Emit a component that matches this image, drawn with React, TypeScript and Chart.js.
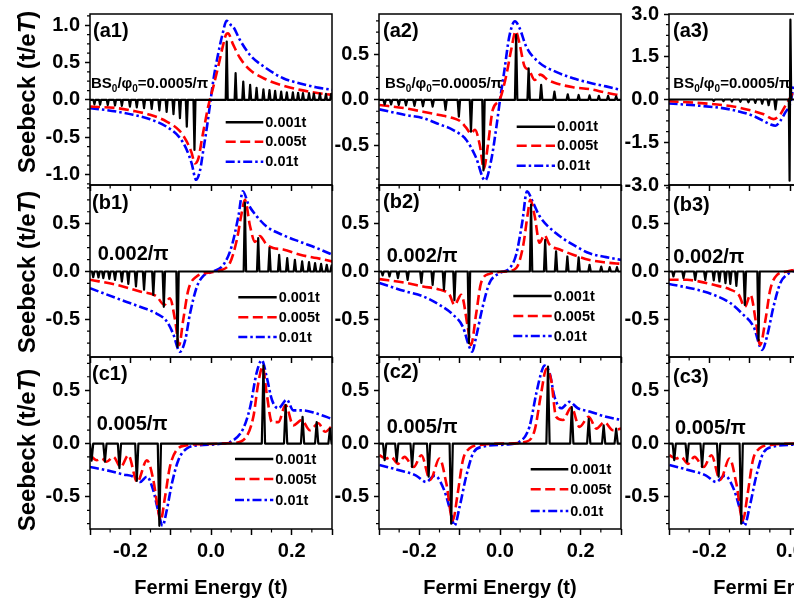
import React, { useEffect, useRef } from "react";
import { Chart, registerables } from "chart.js";

Chart.register(...registerables);

type Pt = [number, number];

// ---------------- axis ticks / labels ----------------
const xMajorTicks = [-0.3, -0.2, -0.1, 0.0, 0.1, 0.2, 0.3];
const xLabelledTicks = [-0.2, 0.0, 0.2];
const xMinorTicks = [-0.25, -0.15, -0.05, 0.05, 0.15, 0.25];
const yTicksA1 = [-1.0, -0.5, 0.0, 0.5, 1.0];
const yTicksA2 = [-0.5, 0.0, 0.5];
const yTicksA3 = [-3.0, -1.5, 0.0, 1.5, 3.0];
const yTicksBC = [-0.5, 0.0, 0.5];
const seriesNames = ["0.001t", "0.005t", "0.01t"];
const xTitle = "Fermi Energy (t)";
const yTitleParts = ["Seebeck (t/e", "T", ")"];

// ---------------- (a1) BS0/phi0 = 0.0005/pi ----------------
const a1BlackSpikes: Pt[] = [
  [-0.289, -0.06], [-0.275, -0.065], [-0.256, -0.07], [-0.238, -0.075], [-0.221, -0.08],
  [-0.201, -0.09], [-0.184, -0.1], [-0.166, -0.11], [-0.147, -0.12], [-0.128, -0.14],
  [-0.11, -0.16], [-0.093, -0.19], [-0.077, -0.245], [-0.06, -0.36], [-0.041, -0.67],
  [0.039, 0.78], [0.061, 0.357], [0.08, 0.245], [0.097, 0.2], [0.113, 0.16], [0.13, 0.14],
  [0.145, 0.13], [0.159, 0.12], [0.174, 0.11], [0.188, 0.1], [0.203, 0.1], [0.216, 0.095],
  [0.228, 0.09], [0.243, 0.09], [0.255, 0.085], [0.27, 0.085], [0.285, 0.08], [0.298, 0.08],
];
const a1Red: Pt[] = [
  [-0.3, -0.089], [-0.234, -0.11], [-0.193, -0.147], [-0.151, -0.2], [-0.11, -0.29],
  [-0.077, -0.42], [-0.06, -0.56], [-0.048, -0.71], [-0.04, -0.85], [-0.031, -0.78],
  [-0.023, -0.54], [-0.015, -0.31], [-0.007, -0.09], [0.006, 0.18], [0.018, 0.45],
  [0.029, 0.71], [0.037, 0.87], [0.042, 0.89], [0.055, 0.74], [0.072, 0.56], [0.097, 0.4],
  [0.138, 0.27], [0.179, 0.19], [0.221, 0.134], [0.26, 0.095], [0.301, 0.067],
];
const a1Blue: Pt[] = [
  [-0.3, -0.11], [-0.234, -0.156], [-0.193, -0.2], [-0.151, -0.26], [-0.11, -0.36],
  [-0.077, -0.51], [-0.06, -0.67], [-0.048, -0.85], [-0.037, -1.07], [-0.027, -0.94],
  [-0.019, -0.67], [-0.01, -0.36], [-0.002, -0.045], [0.006, 0.27], [0.018, 0.625],
  [0.029, 0.89], [0.0385, 1.06], [0.05, 1.0], [0.055, 0.98], [0.072, 0.8], [0.097, 0.6],
  [0.138, 0.42], [0.179, 0.29], [0.221, 0.22], [0.26, 0.17], [0.301, 0.134],
];

// ---------------- (a2) ----------------
const a2BlackSpikes: Pt[] = [
  [-0.286, -0.05], [-0.27, -0.05], [-0.251, -0.055], [-0.233, -0.06], [-0.212, -0.065],
  [-0.191, -0.07], [-0.167, -0.074], [-0.135, -0.11], [-0.102, -0.185], [-0.072, -0.35],
  [-0.041, -0.78],
  [0.04, 0.72], [0.071, 0.35], [0.102, 0.167], [0.135, 0.093], [0.168, 0.063], [0.195, 0.055],
  [0.222, 0.05], [0.245, 0.045], [0.268, 0.045], [0.288, 0.04],
];
const a2Red: Pt[] = [
  [-0.299, -0.056], [-0.233, -0.093], [-0.191, -0.13], [-0.15, -0.167], [-0.117, -0.2],
  [-0.1, -0.23], [-0.085, -0.3], [-0.072, -0.37], [-0.062, -0.33], [-0.05, -0.5],
  [-0.04, -0.76], [-0.03, -0.5], [-0.018, -0.11], [-0.001, 0.0], [0.015, 0.26], [0.028, 0.56],
  [0.039, 0.76], [0.048, 0.63], [0.061, 0.37], [0.072, 0.33], [0.086, 0.22], [0.1, 0.28],
  [0.119, 0.22], [0.135, 0.19], [0.181, 0.14], [0.222, 0.12], [0.263, 0.08], [0.301, 0.048],
];
const a2Blue: Pt[] = [
  [-0.299, -0.104], [-0.233, -0.167], [-0.191, -0.2], [-0.15, -0.27], [-0.117, -0.33],
  [-0.084, -0.44], [-0.06, -0.63], [-0.037, -0.89], [-0.022, -0.67], [-0.009, -0.3],
  [0.0, 0.0], [0.011, 0.33], [0.023, 0.7], [0.037, 0.87], [0.048, 0.8], [0.065, 0.59],
  [0.098, 0.41], [0.139, 0.31], [0.181, 0.24], [0.222, 0.19], [0.263, 0.15], [0.301, 0.11],
];

// ---------------- (a3) ----------------
const a3BlackSpikes: Pt[] = [
  [-0.189, -0.05], [-0.165, -0.06], [-0.144, -0.07], [-0.123, -0.08], [-0.103, -0.1],
  [-0.086, -0.12], [-0.069, -0.15], [-0.053, -0.2], [-0.036, -0.35],
];
const a3BlackCentre: Pt[] = [[-0.003, 0.0], [-0.001, -2.85], [0.001, 2.8], [0.003, 0.0]];
const a3Red: Pt[] = [
  [-0.301, -0.06], [-0.231, -0.115], [-0.148, -0.23], [-0.107, -0.35], [-0.065, -0.52],
  [-0.041, -0.69], [-0.024, -0.52], [-0.012, -0.23], [-0.002, 0.0], [0.009, 0.3],
];
const a3Blue: Pt[] = [
  [-0.301, -0.14], [-0.231, -0.21], [-0.148, -0.35], [-0.09, -0.58], [-0.049, -0.87],
  [-0.036, -0.92], [-0.024, -0.75], [-0.012, -0.46], [0.001, -0.12], [0.009, 0.5],
];

// ---------------- (b1) 0.002/pi ----------------
const b1BlackSpikes: Pt[] = [
  [-0.292, -0.06], [-0.279, -0.063], [-0.267, -0.07], [-0.252, -0.077], [-0.238, -0.087],
  [-0.221, -0.105], [-0.205, -0.13], [-0.186, -0.157], [-0.166, -0.19], [-0.143, -0.245],
  [-0.117, -0.37], [-0.083, -0.79],
  [0.084, 0.72], [0.117, 0.35], [0.145, 0.245], [0.169, 0.175], [0.189, 0.14], [0.208, 0.122],
  [0.226, 0.105], [0.243, 0.098], [0.258, 0.087], [0.273, 0.08], [0.287, 0.07], [0.299, 0.063],
];
const b1Red: Pt[] = [
  [-0.3, -0.087], [-0.234, -0.14], [-0.176, -0.21], [-0.135, -0.26], [-0.116, -0.35],
  [-0.102, -0.28], [-0.089, -0.51], [-0.079, -0.77], [-0.069, -0.51], [-0.056, -0.19],
  [-0.035, -0.05], [-0.002, -0.01], [0.022, 0.01], [0.047, 0.09], [0.064, 0.33], [0.076, 0.61],
  [0.084, 0.75], [0.097, 0.47], [0.109, 0.31], [0.121, 0.37], [0.138, 0.28], [0.154, 0.245],
  [0.179, 0.23], [0.221, 0.175], [0.262, 0.14], [0.301, 0.105],
];
const b1Blue: Pt[] = [
  [-0.3, -0.175], [-0.234, -0.28], [-0.176, -0.37], [-0.135, -0.44], [-0.11, -0.52],
  [-0.094, -0.65], [-0.077, -0.84], [-0.064, -0.72], [-0.052, -0.44], [-0.035, -0.16],
  [-0.019, -0.045], [0.006, 0.0], [0.031, 0.07], [0.051, 0.26], [0.068, 0.58], [0.079, 0.84],
  [0.093, 0.7], [0.113, 0.58], [0.138, 0.47], [0.179, 0.38], [0.221, 0.31], [0.262, 0.245],
  [0.301, 0.175],
];

// ---------------- (b2) ----------------
const b2BlackSpikes: Pt[] = [
  [-0.291, -0.042], [-0.274, -0.052], [-0.253, -0.07], [-0.229, -0.087], [-0.195, -0.12],
  [-0.167, -0.14], [-0.139, -0.19], [-0.113, -0.3], [-0.077, -0.75],
  [0.077, 0.7], [0.112, 0.33], [0.139, 0.21], [0.167, 0.157], [0.195, 0.147], [0.222, 0.07],
  [0.251, 0.052], [0.272, 0.045], [0.29, 0.045],
];
const b2Red: Pt[] = [
  [-0.299, -0.08], [-0.233, -0.12], [-0.191, -0.157], [-0.15, -0.19], [-0.125, -0.245],
  [-0.113, -0.35], [-0.096, -0.245], [-0.08, -0.58], [-0.072, -0.77], [-0.059, -0.44],
  [-0.047, -0.12], [-0.026, -0.025], [0.015, 0.0], [0.04, 0.035], [0.057, 0.26], [0.069, 0.61],
  [0.075, 0.75], [0.086, 0.58], [0.098, 0.3], [0.11, 0.38], [0.123, 0.28], [0.148, 0.23],
  [0.181, 0.175], [0.222, 0.12], [0.263, 0.094], [0.301, 0.08],
];
const b2Blue: Pt[] = [
  [-0.299, -0.12], [-0.233, -0.21], [-0.191, -0.26], [-0.15, -0.35], [-0.117, -0.45],
  [-0.092, -0.58], [-0.076, -0.79], [-0.069, -0.84], [-0.059, -0.68], [-0.043, -0.37],
  [-0.026, -0.12], [-0.001, -0.017], [0.024, 0.035], [0.04, 0.175], [0.055, 0.51],
  [0.067, 0.84], [0.081, 0.73], [0.098, 0.58], [0.139, 0.4], [0.181, 0.28], [0.222, 0.19],
  [0.263, 0.15], [0.301, 0.12],
];

// ---------------- (b3) ----------------
const b3BlackSpikes: Pt[] = [
  [-0.289, -0.052], [-0.264, -0.07], [-0.235, -0.087], [-0.21, -0.087], [-0.189, -0.094],
  [-0.175, -0.105], [-0.16, -0.122], [-0.148, -0.13], [-0.133, -0.15], [-0.112, -0.35],
  [-0.078, -0.72],
];
const b3Red: Pt[] = [
  [-0.301, -0.087], [-0.255, -0.087], [-0.231, -0.1], [-0.189, -0.14], [-0.148, -0.19],
  [-0.127, -0.245], [-0.112, -0.37], [-0.098, -0.245], [-0.084, -0.54], [-0.074, -0.77],
  [-0.061, -0.51], [-0.049, -0.19], [-0.032, -0.035], [-0.008, 0.0], [0.011, 0.017],
];
const b3Blue: Pt[] = [
  [-0.301, -0.13], [-0.231, -0.19], [-0.189, -0.245], [-0.148, -0.33], [-0.119, -0.44],
  [-0.09, -0.58], [-0.069, -0.82], [-0.057, -0.68], [-0.041, -0.37], [-0.024, -0.12],
  [-0.008, -0.035], [0.011, 0.01],
];

// ---------------- (c1) 0.005/pi ----------------
const c1BlackSpikes: Pt[] = [
  [-0.296, -0.16], [-0.263, -0.17], [-0.227, -0.23], [-0.184, -0.35], [-0.128, -0.77],
  [0.13, 0.73], [0.185, 0.36], [0.227, 0.25], [0.262, 0.2], [0.295, 0.14],
];
const c1Red: Pt[] = [
  [-0.3, -0.11], [-0.283, -0.156], [-0.271, -0.14], [-0.259, -0.17], [-0.242, -0.125],
  [-0.224, -0.22], [-0.205, -0.11], [-0.183, -0.36], [-0.159, -0.156], [-0.143, -0.34],
  [-0.135, -0.53], [-0.125, -0.72], [-0.114, -0.5], [-0.102, -0.22], [-0.085, -0.06],
  [-0.06, -0.016], [-0.027, -0.006], [0.055, 0.006], [0.084, 0.047], [0.105, 0.25],
  [0.117, 0.56], [0.128, 0.72], [0.138, 0.47], [0.151, 0.2], [0.167, 0.2], [0.185, 0.36],
  [0.204, 0.17], [0.225, 0.22], [0.245, 0.125], [0.266, 0.19], [0.283, 0.11], [0.301, 0.17],
];
const c1Blue: Pt[] = [
  [-0.3, -0.22], [-0.259, -0.25], [-0.217, -0.29], [-0.193, -0.31], [-0.176, -0.36],
  [-0.159, -0.31], [-0.143, -0.44], [-0.131, -0.63], [-0.12, -0.77], [-0.11, -0.63],
  [-0.097, -0.375], [-0.081, -0.156], [-0.06, -0.047], [-0.027, -0.016], [0.014, -0.006],
  [0.055, 0.03], [0.08, 0.14], [0.097, 0.34], [0.113, 0.66], [0.126, 0.78], [0.138, 0.625],
  [0.151, 0.41], [0.167, 0.33], [0.188, 0.41], [0.204, 0.31], [0.229, 0.31], [0.262, 0.28],
  [0.301, 0.23],
];

// ---------------- (c2) ----------------
const c2BlackSpikes: Pt[] = [
  [-0.286, -0.156], [-0.256, -0.17], [-0.218, -0.22], [-0.177, -0.31], [-0.121, -0.75],
  [0.119, 0.72], [0.178, 0.34], [0.22, 0.23], [0.257, 0.17], [0.288, 0.14],
];
const c2Red: Pt[] = [
  [-0.299, -0.11], [-0.282, -0.14], [-0.27, -0.125], [-0.253, -0.19], [-0.237, -0.125],
  [-0.214, -0.22], [-0.195, -0.11], [-0.173, -0.34], [-0.15, -0.14], [-0.133, -0.375],
  [-0.117, -0.72], [-0.105, -0.47], [-0.092, -0.156], [-0.076, -0.047], [-0.043, -0.01],
  [0.015, 0.0], [0.065, 0.016], [0.086, 0.125], [0.102, 0.47], [0.115, 0.7], [0.127, 0.59],
  [0.139, 0.25], [0.156, 0.22], [0.177, 0.34], [0.197, 0.156], [0.22, 0.25], [0.239, 0.14],
  [0.259, 0.2], [0.28, 0.125], [0.301, 0.14],
];
const c2Blue: Pt[] = [
  [-0.299, -0.2], [-0.25, -0.25], [-0.208, -0.3], [-0.183, -0.36], [-0.162, -0.3],
  [-0.138, -0.44], [-0.121, -0.66], [-0.113, -0.77], [-0.1, -0.59], [-0.084, -0.31],
  [-0.067, -0.094], [-0.043, -0.03], [0.015, -0.01], [0.048, 0.016], [0.073, 0.156],
  [0.09, 0.47], [0.102, 0.66], [0.11, 0.73], [0.123, 0.66], [0.135, 0.44], [0.152, 0.33],
  [0.172, 0.39], [0.193, 0.33], [0.222, 0.3], [0.263, 0.25], [0.301, 0.22],
];

// ---------------- (c3) ----------------
const c3BlackSpikes: Pt[] = [
  [-0.287, -0.156], [-0.255, -0.17], [-0.218, -0.22], [-0.177, -0.31], [-0.121, -0.75],
];
const c3Red: Pt[] = [
  [-0.299, -0.11], [-0.282, -0.14], [-0.27, -0.125], [-0.253, -0.19], [-0.237, -0.125],
  [-0.214, -0.22], [-0.195, -0.11], [-0.173, -0.34], [-0.15, -0.14], [-0.133, -0.375],
  [-0.117, -0.72], [-0.105, -0.47], [-0.092, -0.156], [-0.076, -0.047], [-0.043, -0.01],
  [0.012, 0.0],
];
const c3Blue: Pt[] = [
  [-0.299, -0.2], [-0.25, -0.25], [-0.208, -0.3], [-0.183, -0.36], [-0.162, -0.3],
  [-0.138, -0.44], [-0.121, -0.66], [-0.113, -0.77], [-0.1, -0.59], [-0.084, -0.31],
  [-0.067, -0.094], [-0.043, -0.03], [0.012, -0.01],
];

// ---------------- layout (styles, not data) ----------------
const FONT = "'Liberation Sans', Arial, Helvetica, sans-serif";
const COL_LEFT = [90, 379, 669];
const ROW_TOP = [14, 185, 357];
const ROW_H = [171, 172, 172];
const PLOT_W = 242;
const AXIS_W = 90;
const PAD_TOP = 14;
const PAD_RIGHT = 10;
const BOTTOM_H = [10, 10, 72];
const Y_TITLE_CY = [92, 272, 450];

interface PanelSpec {
  row: number;
  col: number;
  yMin: number;
  yMax: number;
  yTicks: number[];
  yMinorStep: number;
  spikes: Pt[];
  extra?: Pt[];
  blackEnd: number;
  spikeW: number;
  red: Pt[];
  blue: Pt[];
  tag: string;
  tagPos: [number, number];
  note: "bs" | string;
  notePos: [number, number];
  legend: [number, number, number, number, number];
}

const panels: PanelSpec[] = [
  { row: 0, col: 0, yMin: -1.14, yMax: 1.15, yTicks: yTicksA1, yMinorStep: 0.125, spikes: a1BlackSpikes, blackEnd: 0.3, spikeW: 0.0025, red: a1Red, blue: a1Blue, tag: "(a1)", tagPos: [3, 23], note: "bs", notePos: [1, 73.5], legend: [135.7, 173.3, 108.3, 127.7, 147.7] },
  { row: 0, col: 1, yMin: -0.94, yMax: 0.95, yTicks: yTicksA2, yMinorStep: 0.125, spikes: a2BlackSpikes, blackEnd: 0.3, spikeW: 0.003, red: a2Red, blue: a2Blue, tag: "(a2)", tagPos: [4, 23], note: "bs", notePos: [6, 74.3], legend: [137.7, 176, 112.7, 131.7, 151.7] },
  { row: 0, col: 2, yMin: -3.0, yMax: 3.0, yTicks: yTicksA3, yMinorStep: 0.375, spikes: a3BlackSpikes, extra: a3BlackCentre, blackEnd: 0.012, spikeW: 0.003, red: a3Red, blue: a3Blue, tag: "(a3)", tagPos: [4, 23], note: "bs", notePos: [4.3, 74.3], legend: [137.7, 176, 112.7, 131.7, 151.7] },
  { row: 1, col: 0, yMin: -0.895, yMax: 0.905, yTicks: yTicksBC, yMinorStep: 0.125, spikes: b1BlackSpikes, blackEnd: 0.3, spikeW: 0.003, red: b1Red, blue: b1Blue, tag: "(b1)", tagPos: [2, 24], note: "0.002/\u03c0", notePos: [7.7, 75], legend: [148.3, 186.7, 112.3, 132.3, 152] },
  { row: 1, col: 1, yMin: -0.895, yMax: 0.905, yTicks: yTicksBC, yMinorStep: 0.125, spikes: b2BlackSpikes, blackEnd: 0.3, spikeW: 0.003, red: b2Red, blue: b2Blue, tag: "(b2)", tagPos: [4, 23], note: "0.002/\u03c0", notePos: [7.7, 77], legend: [134.3, 172.7, 111, 131, 151] },
  { row: 1, col: 2, yMin: -0.895, yMax: 0.905, yTicks: yTicksBC, yMinorStep: 0.125, spikes: b3BlackSpikes, blackEnd: 0.012, spikeW: 0.003, red: b3Red, blue: b3Blue, tag: "(b3)", tagPos: [4, 26], note: "0.002/\u03c0", notePos: [4.3, 78], legend: [134.3, 172.7, 111, 131, 151] },
  { row: 2, col: 0, yMin: -0.8, yMax: 0.81, yTicks: yTicksBC, yMinorStep: 0.125, spikes: c1BlackSpikes, blackEnd: 0.3, spikeW: 0.004, red: c1Red, blue: c1Blue, tag: "(c1)", tagPos: [2, 23], note: "0.005/\u03c0", notePos: [6.7, 73], legend: [145, 183.3, 102, 122, 143] },
  { row: 2, col: 1, yMin: -0.8, yMax: 0.81, yTicks: yTicksBC, yMinorStep: 0.125, spikes: c2BlackSpikes, blackEnd: 0.3, spikeW: 0.004, red: c2Red, blue: c2Blue, tag: "(c2)", tagPos: [4, 21], note: "0.005/\u03c0", notePos: [7.7, 76], legend: [151.7, 189.3, 112.3, 132.3, 154] },
  { row: 2, col: 2, yMin: -0.8, yMax: 0.81, yTicks: yTicksBC, yMinorStep: 0.125, spikes: c3BlackSpikes, blackEnd: 0.012, spikeW: 0.004, red: c3Red, blue: c3Blue, tag: "(c3)", tagPos: [4, 26], note: "0.005/\u03c0", notePos: [6, 76.7], legend: [151.7, 189.3, 112.3, 132.3, 154] },
];

function spikeLine(spikes: Pt[], w: number, end: number, extra: Pt[] = []): { x: number; y: number }[] {
  const pts: Pt[] = [[-0.3, 0], [end, 0]];
  for (const [e, h] of spikes) {
    pts.push([e - w, 0], [e, h], [e + w, 0]);
  }
  for (const p of extra) pts.push(p);
  pts.sort((a, b) => a[0] - b[0]);
  return pts.map(([x, y]) => ({ x, y }));
}

const toXY = (arr: Pt[]) => arr.map(([x, y]) => ({ x, y }));

const DASHES: number[][] = [[], [10, 4.5], [9, 3, 2.5, 3]];
const COLORS = ["#000000", "#ff0000", "#0000ff"];
const LINE_W = 2.6;
const BLACK_W = 2.2;

function makeDecor(p: PanelSpec) {
  return {
    id: "panelDecor",
    afterDraw(chart: any) {
      const ctx: CanvasRenderingContext2D = chart.ctx;
      const a = chart.chartArea;
      const xs = chart.scales.x;
      const ys = chart.scales.y;
      ctx.save();
      ctx.strokeStyle = "#000";
      ctx.fillStyle = "#000";
      ctx.setLineDash([]);
      // frame
      ctx.lineWidth = 1.5;
      ctx.strokeRect(a.left, a.top, a.right - a.left, a.bottom - a.top);
      // minor ticks
      ctx.lineWidth = 1.2;
      ctx.beginPath();
      for (const v of xMinorTicks) {
        const px = xs.getPixelForValue(v);
        ctx.moveTo(px, a.bottom);
        ctx.lineTo(px, a.bottom + 3.5);
      }
      const major = new Set(p.yTicks.map((v) => Math.round(v * 1000)));
      const start = Math.ceil(p.yMin / p.yMinorStep);
      const stop = Math.floor(p.yMax / p.yMinorStep);
      for (let k = start; k <= stop; k++) {
        const v = k * p.yMinorStep;
        if (major.has(Math.round(v * 1000))) continue;
        const py = ys.getPixelForValue(v);
        ctx.moveTo(a.left, py);
        ctx.lineTo(a.left - 3, py);
      }
      ctx.stroke();

      // panel tag
      ctx.textAlign = "left";
      ctx.textBaseline = "alphabetic";
      ctx.font = `bold 20px ${FONT}`;
      ctx.fillText(p.tag, a.left + p.tagPos[0], a.top + p.tagPos[1]);

      // field note
      const nx = a.left + p.notePos[0];
      const ny = a.top + p.notePos[1];
      if (p.note === "bs") {
        const big = `bold 15px ${FONT}`;
        const small = `bold 10px ${FONT}`;
        const parts: [string, string, number][] = [
          ["BS", big, 0],
          ["0", small, 4],
          ["/\u03c6", big, 0],
          ["0", small, 4],
          ["=0.0005/\u03c0", big, 0],
        ];
        let cx = nx;
        for (const [t, f, dy] of parts) {
          ctx.font = f;
          ctx.fillText(t, cx, ny + dy);
          cx += ctx.measureText(t).width;
        }
      } else {
        ctx.font = `bold 20px ${FONT}`;
        ctx.fillText(p.note, nx, ny);
      }

      // legend
      const [lx0, lx1, ly0, ly1, ly2] = p.legend;
      const lys = [ly0, ly1, ly2];
      for (let i = 0; i < 3; i++) {
        const y = a.top + lys[i];
        ctx.save();
        ctx.strokeStyle = COLORS[i];
        ctx.lineWidth = LINE_W;
        ctx.setLineDash(DASHES[i]);
        ctx.beginPath();
        ctx.moveTo(a.left + lx0, y);
        ctx.lineTo(a.left + lx1, y);
        ctx.stroke();
        ctx.restore();
        ctx.font = `bold 14.5px ${FONT}`;
        ctx.textBaseline = "middle";
        ctx.fillText(seriesNames[i], a.left + lx1 + 2, y + 0.5);
      }
      ctx.textBaseline = "alphabetic";

      // y title
      if (p.col === 0) {
        ctx.save();
        const cy = Y_TITLE_CY[p.row] - (ROW_TOP[p.row] - PAD_TOP);
        ctx.translate(35, cy);
        ctx.rotate(-Math.PI / 2);
        const fonts = [`bold 24px ${FONT}`, `italic bold 24px ${FONT}`, `bold 24px ${FONT}`];
        let total = 0;
        yTitleParts.forEach((t, i) => {
          ctx.font = fonts[i];
          total += ctx.measureText(t).width;
        });
        let x = -total / 2;
        yTitleParts.forEach((t, i) => {
          ctx.font = fonts[i];
          ctx.fillText(t, x, 0);
          x += ctx.measureText(t).width;
        });
        ctx.restore();
      }
      // x title
      if (p.row === 2) {
        ctx.font = `bold 20px ${FONT}`;
        ctx.textAlign = "center";
        ctx.fillText(xTitle, (a.left + a.right) / 2, a.bottom + 64.5);
      }
      ctx.restore();
    },
  };
}

function Panel({ p }: { p: PanelSpec }) {
  const ref = useRef<HTMLCanvasElement | null>(null);
  const width = AXIS_W + PLOT_W + PAD_RIGHT;
  const height = PAD_TOP + ROW_H[p.row] + BOTTOM_H[p.row];
  useEffect(() => {
    if (!ref.current) return;
    const tickFont = { family: FONT, size: 20, weight: "bold" as const };
    const chart = new Chart(ref.current, {
      type: "line",
      data: {
        datasets: [
          {
            label: seriesNames[0],
            data: spikeLine(p.spikes, p.spikeW, p.blackEnd, p.extra),
            borderColor: COLORS[0],
            borderWidth: BLACK_W,
            borderJoinStyle: "round",
            pointRadius: 0,
            tension: 0,
            fill: false,
          },
          {
            label: seriesNames[1],
            data: toXY(p.red),
            borderColor: COLORS[1],
            borderWidth: LINE_W,
            borderDash: DASHES[1],
            borderJoinStyle: "round",
            pointRadius: 0,
            cubicInterpolationMode: "monotone",
            fill: false,
          },
          {
            label: seriesNames[2],
            data: toXY(p.blue),
            borderColor: COLORS[2],
            borderWidth: LINE_W,
            borderDash: DASHES[2],
            borderJoinStyle: "round",
            pointRadius: 0,
            cubicInterpolationMode: "monotone",
            fill: false,
          },
        ],
      },
      options: {
        animation: false,
        responsive: false,
        maintainAspectRatio: false,
        events: [],
        layout: { padding: { left: 0, top: PAD_TOP, right: PAD_RIGHT, bottom: 0 } },
        plugins: { legend: { display: false }, tooltip: { enabled: false } },
        scales: {
          x: {
            type: "linear",
            position: "bottom",
            min: -0.3,
            max: 0.3,
            afterBuildTicks: (s: any) => {
              s.ticks = xMajorTicks.map((v) => ({ value: v }));
            },
            afterFit: (s: any) => {
              s.height = BOTTOM_H[p.row];
              s.paddingLeft = 0;
              s.paddingRight = 0;
            },
            ticks: {
              display: p.row === 2,
              autoSkip: false,
              maxRotation: 0,
              padding: 4,
              color: "#000",
              font: tickFont,
              callback: (v: any) => {
                const n = Number(v);
                return xLabelledTicks.some((t) => Math.abs(t - n) < 1e-6) ? n.toFixed(1) : "";
              },
            },
            grid: { display: true, drawOnChartArea: false, drawTicks: true, tickLength: 6, tickWidth: 1.5, tickColor: "#000" },
            border: { display: false },
          },
          y: {
            type: "linear",
            min: p.yMin,
            max: p.yMax,
            afterBuildTicks: (s: any) => {
              s.ticks = p.yTicks.map((v) => ({ value: v }));
            },
            afterFit: (s: any) => {
              s.width = AXIS_W;
              s.paddingTop = 0;
              s.paddingBottom = 0;
            },
            ticks: {
              padding: 5,
              color: "#000",
              font: tickFont,
              callback: (v: any) => Number(v).toFixed(1),
            },
            grid: { display: true, drawOnChartArea: false, drawTicks: true, tickLength: 5, tickWidth: 1.5, tickColor: "#000" },
            border: { display: false },
          },
        },
      },
      plugins: [makeDecor(p)],
    } as any);
    return () => chart.destroy();
  }, [p]);
  return (
    <canvas
      ref={ref}
      width={width}
      height={height}
      style={{
        position: "absolute",
        left: COL_LEFT[p.col] - AXIS_W,
        top: ROW_TOP[p.row] - PAD_TOP,
        width,
        height,
      }}
    />
  );
}

export default function App() {
  return (
    <div
      style={{
        position: "absolute",
        left: 0,
        top: 0,
        width: 794,
        height: 602,
        overflow: "hidden",
        background: "#fff",
      }}
    >
      {panels.map((p, i) => (
        <Panel key={i} p={p} />
      ))}
    </div>
  );
}
